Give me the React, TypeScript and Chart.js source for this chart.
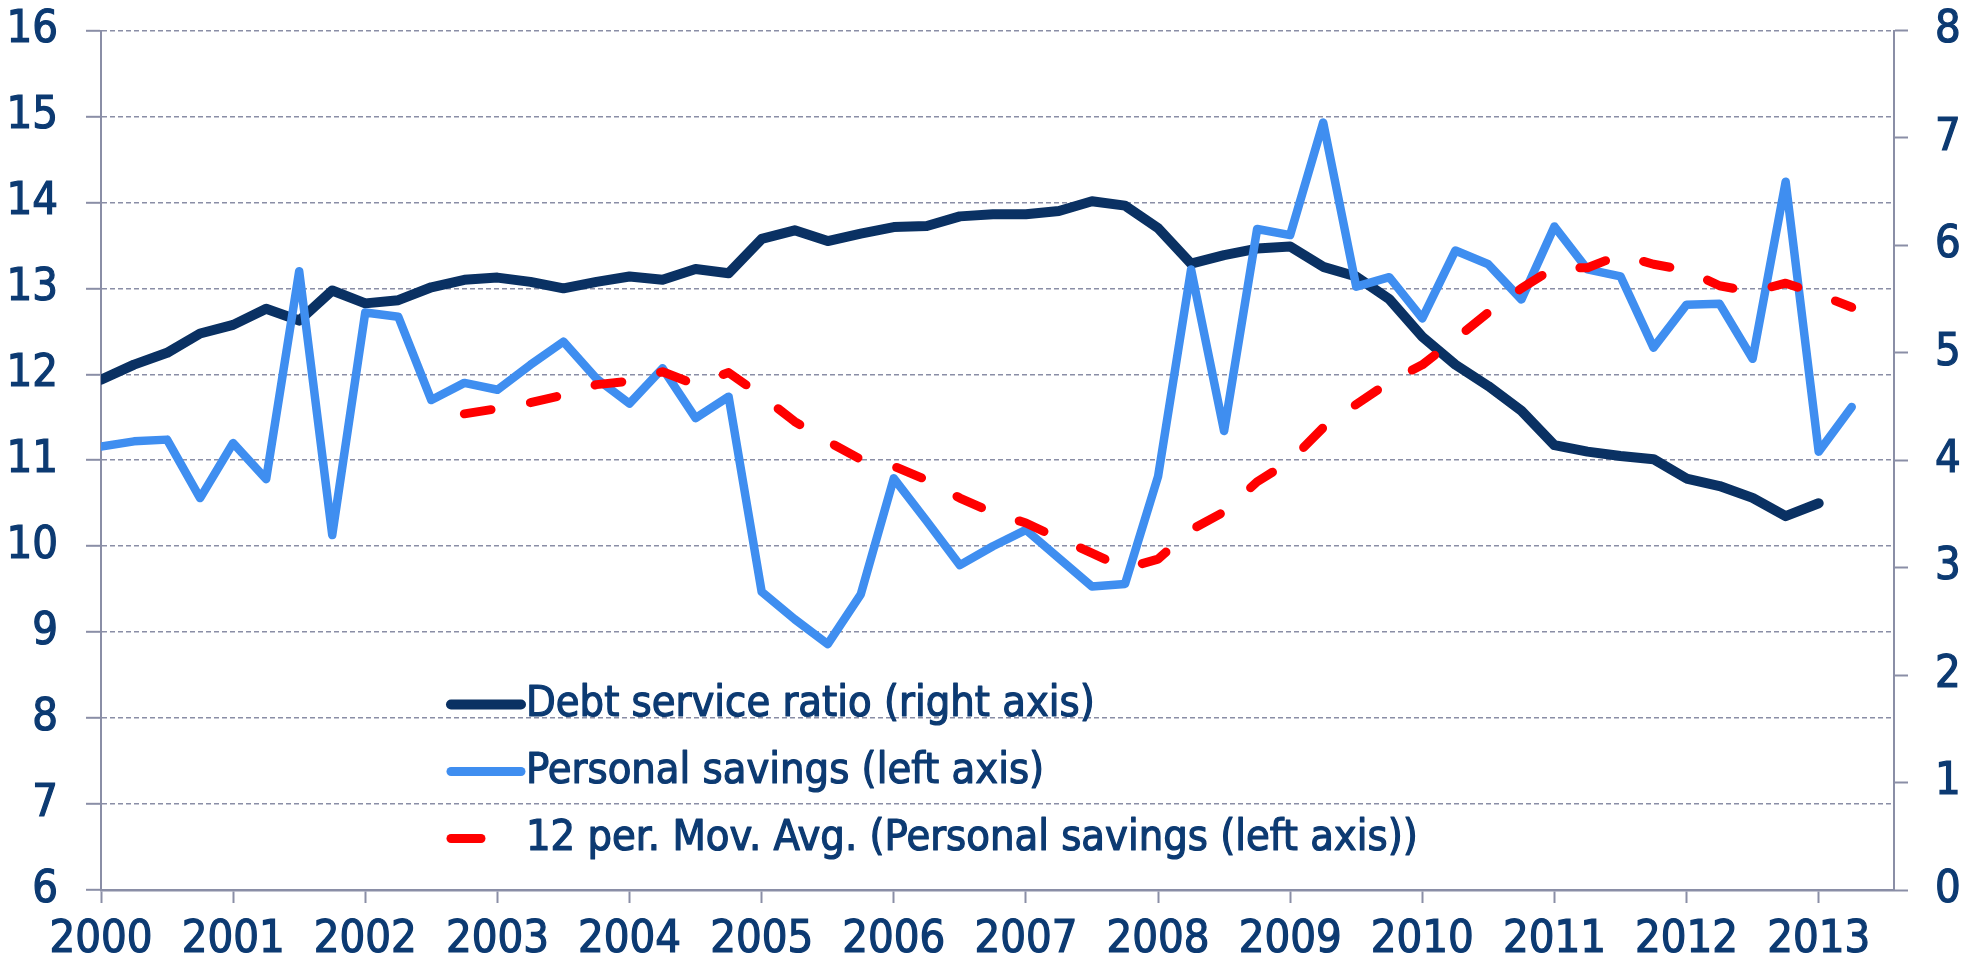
import React, { useEffect, useRef } from "react";
import { Chart, registerables } from "chart.js";

Chart.register(...registerables);

// Quarterly observations starting 2000 Q1
const yearLabels = ["2000","2001","2002","2003","2004","2005","2006","2007","2008","2009","2010","2011","2012","2013"];

// Debt service ratio (right axis)
const debtServiceRatio = [
  4.75, 4.89, 5.00, 5.18, 5.26, 5.41, 5.30, 5.58, 5.46, 5.49,
  5.61, 5.68, 5.70, 5.66, 5.60, 5.66, 5.71, 5.68, 5.78, 5.74,
  6.06, 6.14, 6.04, 6.11, 6.17, 6.18, 6.27, 6.29, 6.29, 6.32,
  6.41, 6.37, 6.16, 5.83, 5.91, 5.97, 5.99, 5.80, 5.71, 5.50,
  5.15, 4.89, 4.69, 4.46, 4.14, 4.08, 4.04, 4.01, 3.83, 3.76,
  3.65, 3.48, 3.60,
];

// Personal savings (left axis)
const personalSavings = [
  11.16, 11.22, 11.24, 10.56, 11.20, 10.78, 13.20, 10.13, 12.72, 12.67,
  11.70, 11.90, 11.82, 12.11, 12.38, 11.95, 11.66, 12.07, 11.49, 11.74,
  9.47, 9.15, 8.86, 9.44, 10.79, 10.29, 9.78, 10.00, 10.19, 9.86,
  9.53, 9.56, 10.81, 13.22, 11.34, 13.69, 13.62, 14.93, 13.02, 13.13,
  12.65, 13.44, 13.28, 12.87, 13.72, 13.22, 13.14, 12.31, 12.81, 12.82,
  12.18, 14.24, 11.10, 11.62,
];

// 12 per. moving average of personal savings, first value at 2002 Q4
const movAvgStart = 11;
const savingsMovAvg = [
  11.54, 11.60, 11.67, 11.76, 11.88, 11.92, 12.03, 11.88, 12.02, 11.75,
  11.45, 11.22, 11.01, 10.93, 10.77, 10.56, 10.39, 10.27, 10.09, 9.92,
  9.74, 9.85, 10.19, 10.40, 10.75, 10.99, 11.38, 11.65, 11.91, 12.11,
  12.41, 12.72, 13.00, 13.24, 13.24, 13.39, 13.28, 13.21, 13.03, 12.96,
  13.06, 12.93, 12.78,
];

const seriesLabels = [
  "Debt service ratio (right axis)",
  "Personal savings (left axis)",
  "12 per. Mov. Avg. (Personal savings (left axis))",
];

const NAVY_TEXT = "#0c3a72";
const NAVY_LINE = "#0a3163";
const LIGHT_BLUE = "#3f8ef0";
const RED = "#ff0000";
const AXIS_GRAY = "#8a8ea6";
const FONT = '"DejaVu Sans Condensed", "Liberation Sans", Arial, sans-serif';

const legendPlugin = {
  id: "insideLegend",
  afterDatasetsDraw(chart: any) {
    const { ctx, chartArea } = chart;
    const x0 = chartArea.left + 350;
    const y0 = chartArea.top + 674;
    const rowGap = 67;
    const lineLen = 70;
    const items = [
      { label: seriesLabels[0], color: NAVY_LINE, width: 10, short: false },
      { label: seriesLabels[1], color: LIGHT_BLUE, width: 9, short: false },
      { label: seriesLabels[2], color: RED, width: 9, short: true },
    ];
    ctx.save();
    ctx.font = "43px " + FONT;
    ctx.textBaseline = "middle";
    ctx.textAlign = "left";
    items.forEach((it, k) => {
      const y = y0 + k * rowGap;
      ctx.beginPath();
      ctx.lineCap = "round";
      ctx.strokeStyle = it.color;
      ctx.lineWidth = it.width;
      ctx.moveTo(x0, y);
      ctx.lineTo(x0 + (it.short ? 30 : lineLen), y);
      ctx.stroke();
      ctx.fillStyle = NAVY_TEXT;
      ctx.strokeStyle = NAVY_TEXT;
      ctx.lineWidth = 1.2;
      ctx.lineJoin = "round";
      ctx.strokeText(it.label, x0 + lineLen + 5, y);
      ctx.fillText(it.label, x0 + lineLen + 5, y);
    });
    ctx.restore();
  },
};

const noVerticalPad = (scale: any) => {
  scale.paddingTop = 0;
  scale.paddingBottom = 0;
};

export default function App() {
  const canvasRef = useRef<HTMLCanvasElement | null>(null);

  useEffect(() => {
    document.body.style.margin = "0";
    const canvas = canvasRef.current;
    if (!canvas) return;

    const yearTickValues = yearLabels.map((_, i) => i * 4);
    const tickFont = { family: FONT, size: 45 };

    const chart = new Chart(canvas, {
      type: "line",
      data: {
        datasets: [
          {
            label: seriesLabels[0],
            data: debtServiceRatio.map((v, i) => ({ x: i, y: v })),
            yAxisID: "y1",
            borderColor: NAVY_LINE,
            backgroundColor: NAVY_LINE,
            borderWidth: 10,
            pointRadius: 0,
            borderJoinStyle: "round",
            borderCapStyle: "round",
            tension: 0,
            order: 3,
          },
          {
            label: seriesLabels[1],
            data: personalSavings.map((v, i) => ({ x: i, y: v })),
            yAxisID: "y",
            borderColor: LIGHT_BLUE,
            backgroundColor: LIGHT_BLUE,
            borderWidth: 8.5,
            pointRadius: 0,
            borderJoinStyle: "round",
            borderCapStyle: "round",
            tension: 0,
            order: 2,
          },
          {
            label: seriesLabels[2],
            data: savingsMovAvg.map((v, i) => ({ x: i + movAvgStart, y: v })),
            yAxisID: "y",
            borderColor: RED,
            backgroundColor: RED,
            borderWidth: 9,
            borderDash: [27, 40],
            pointRadius: 0,
            borderJoinStyle: "round",
            borderCapStyle: "round",
            tension: 0,
            order: 1,
          },
        ],
      },
      options: {
        animation: false,
        responsive: true,
        maintainAspectRatio: false,
        layout: { padding: { top: 30.5, left: 0, right: 0, bottom: 0 } },
        plugins: {
          legend: { display: false },
          tooltip: { enabled: false },
        },
        scales: {
          x: {
            type: "linear",
            min: 0,
            max: 54.28,
            afterBuildTicks: (scale: any) => {
              scale.ticks = yearTickValues.map((v) => ({ value: v }));
            },
            afterFit: (scale: any) => {
              scale.height = 73;
              scale.paddingLeft = 0;
              scale.paddingRight = 0;
            },
            grid: {
              drawOnChartArea: false,
              drawTicks: true,
              tickLength: 13,
              tickWidth: 2,
              tickColor: AXIS_GRAY,
              color: AXIS_GRAY,
            },
            border: { display: true, color: AXIS_GRAY, width: 2.5 },
            ticks: {
              autoSkip: false,
              maxRotation: 0,
              padding: 10,
              color: NAVY_TEXT,
              textStrokeColor: NAVY_TEXT,
              textStrokeWidth: 1.2,
              font: tickFont,
              callback: (v: any) => yearLabels[Math.round(Number(v) / 4)] ?? "",
            },
          },
          y: {
            type: "linear",
            position: "left",
            min: 6,
            max: 16,
            afterFit: (scale: any) => {
              scale.width = 101;
              noVerticalPad(scale);
            },
            grid: {
              drawOnChartArea: true,
              drawTicks: true,
              tickLength: 15,
              tickWidth: 2,
              tickColor: AXIS_GRAY,
              color: AXIS_GRAY,
              lineWidth: 1.6,
            },
            border: { display: true, color: AXIS_GRAY, width: 2, dash: [5, 3] },
            ticks: {
              stepSize: 1,
              padding: 28,
              color: NAVY_TEXT,
              textStrokeColor: NAVY_TEXT,
              textStrokeWidth: 1.2,
              font: tickFont,
            },
          },
          y1: {
            type: "linear",
            position: "right",
            min: 0,
            max: 8,
            afterFit: (scale: any) => {
              scale.width = 90;
              noVerticalPad(scale);
            },
            grid: {
              drawOnChartArea: false,
              drawTicks: true,
              tickLength: 14,
              tickWidth: 2,
              tickColor: AXIS_GRAY,
              color: AXIS_GRAY,
            },
            border: { display: true, color: AXIS_GRAY, width: 2 },
            ticks: {
              stepSize: 1,
              padding: 27,
              color: NAVY_TEXT,
              textStrokeColor: NAVY_TEXT,
              textStrokeWidth: 1.2,
              font: tickFont,
            },
          },
        },
      },
      plugins: [legendPlugin],
    });

    return () => chart.destroy();
  }, []);

  return (
    <div style={{ position: "absolute", left: 0, top: 0, width: 1984, height: 963 }}>
      <canvas ref={canvasRef} />
    </div>
  );
}
